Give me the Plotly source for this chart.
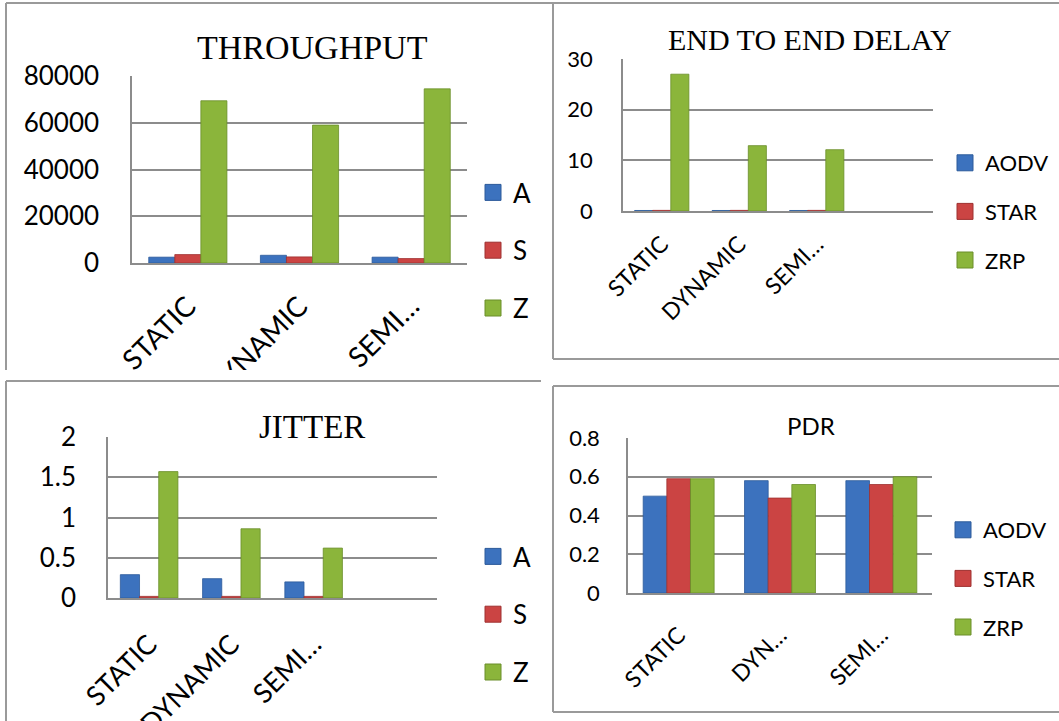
import plotly.graph_objects as go

# ---------------- data ----------------
CATEGORIES = ["STATIC", "DYNAMIC", "SEMI…"]
PDR_TICKS = ["STATIC", "DYN…", "SEMI…"]
SERIES = ["AODV", "STAR", "ZRP"]

THROUGHPUT_AODV = [2500, 3300, 2500]
THROUGHPUT_STAR = [3600, 2600, 1900]
THROUGHPUT_ZRP = [69400, 59000, 74500]

DELAY_AODV = [0.1, 0.1, 0.1]
DELAY_STAR = [0.12, 0.12, 0.12]
DELAY_ZRP = [27.0, 12.9, 12.1]

JITTER_AODV = [0.29, 0.24, 0.2]
JITTER_STAR = [0.02, 0.02, 0.02]
JITTER_ZRP = [1.57, 0.86, 0.62]

PDR_AODV = [0.5, 0.58, 0.58]
PDR_STAR = [0.59, 0.49, 0.56]
PDR_ZRP = [0.59, 0.56, 0.6]

COLORS = ["#3C72BE", "#CB4443", "#8BB53B"]
EDGES = ["#2C5A9A", "#9E3130", "#6A8E2A"]

W, H = 1059, 721
GRID = "#8C8C8C"
BORDER = "#9A9A9A"
SANS = "Lato"
SERIF = "Liberation Serif"


def px(x):
    return x / W


def py(y):
    return 1 - y / H


fig = go.Figure()

panels = [
    dict(ax="", leg="legend", values=[THROUGHPUT_AODV, THROUGHPUT_STAR, THROUGHPUT_ZRP],
         labels=[s[0] for s in SERIES]),
    dict(ax="2", leg="legend2", values=[DELAY_AODV, DELAY_STAR, DELAY_ZRP],
         labels=SERIES),
    dict(ax="3", leg="legend3", values=[JITTER_AODV, JITTER_STAR, JITTER_ZRP],
         labels=[s[0] for s in SERIES]),
    dict(ax="4", leg="legend4", values=[PDR_AODV, PDR_STAR, PDR_ZRP],
         labels=SERIES),
]

for p in panels:
    xa, ya = "x" + p["ax"], "y" + p["ax"]
    for name, vals, c, e in zip(SERIES, p["values"], COLORS, EDGES):
        fig.add_trace(go.Bar(x=CATEGORIES, y=vals, name=name, xaxis=xa, yaxis=ya,
                             marker=dict(color=c, line=dict(color=e, width=0.8)),
                             showlegend=False))
    for label, c, e in zip(p["labels"], COLORS, EDGES):
        fig.add_trace(go.Scatter(x=[None], y=[None], mode="markers", name=label,
                                 xaxis=xa, yaxis=ya, legend=p["leg"],
                                 legendgroup=p["leg"] + label,
                                 marker=dict(symbol="square", size=16, color=c,
                                             line=dict(color=e, width=1)),
                                 hoverinfo="skip"))


def xaxis(anchor, domain, ncat, size, standoff, ticktext=None):
    d = dict(anchor=anchor, domain=domain, type="category", range=[-0.5, ncat - 0.5],
             tickangle=-45, showgrid=False, showline=True, linecolor=GRID,
             linewidth=1.5, ticks="", tickfont=dict(family=SANS, size=size, color="black"),
             ticklabelstandoff=standoff, fixedrange=True, automargin=False)
    if ticktext:
        d["tickvals"] = CATEGORIES
        d["ticktext"] = ticktext
    return d


def yaxis(anchor, domain, rng, dtick, size, standoff, fmt=None):
    d = dict(anchor=anchor, domain=domain, range=rng, dtick=dtick, showgrid=True,
             gridcolor=GRID, gridwidth=1.5, showline=True, linecolor=GRID, linewidth=1.5,
             zeroline=False, ticks="", tickfont=dict(family=SANS, size=size, color="black"),
             ticklabelstandoff=standoff, fixedrange=True, automargin=False)
    if fmt:
        d["tickformat"] = fmt
    return d


def legend(x, y, size, gap):
    return dict(x=px(x), y=py(y), xanchor="left", yanchor="top",
                bgcolor="rgba(0,0,0,0)", borderwidth=0, itemsizing="trace",
                tracegroupgap=gap, traceorder="grouped",
                font=dict(family=SANS, size=size, color="black"))


shapes = []


def line(x0, y0, x1, y1):
    shapes.append(dict(type="line", xref="paper", yref="paper", layer="above",
                       x0=px(x0), y0=py(y0), x1=px(x1), y1=py(y1),
                       line=dict(color=BORDER, width=2)))


def cover(x0, y0, x1, y1):
    shapes.append(dict(type="rect", xref="paper", yref="paper", layer="above",
                       x0=px(x0), y0=py(y0), x1=px(x1), y1=py(y1),
                       fillcolor="white", line=dict(width=0)))


# hide the part of the top-left panel that is cut off
cover(0, 370, 552, 381)
cover(95, 381, 552, 432)

# panel borders
line(6, 3, 1059, 3)        # top edge of both top panels
line(6, 3, 6, 370)         # top-left left edge
line(553, 3, 553, 359)     # top-right left edge
line(553, 359, 1059, 359)  # top-right bottom edge
line(6, 381, 541, 381)     # bottom-left top edge
line(6, 381, 6, 721)       # bottom-left left edge
line(553, 386, 1059, 386)  # bottom-right top edge
line(553, 386, 553, 712)   # bottom-right left edge
line(553, 712, 1059, 712)  # bottom-right bottom edge

annotations = [
    dict(text="THROUGHPUT", x=px(312), y=py(48), font=dict(family=SERIF, size=34)),
    dict(text="END TO END DELAY", x=px(810), y=py(40), font=dict(family=SERIF, size=30)),
    dict(text="JITTER", x=px(312), y=py(427), font=dict(family=SERIF, size=33)),
    dict(text="PDR", x=px(811), y=py(426), font=dict(family=SANS, size=24)),
]
for a in annotations:
    a.update(xref="paper", yref="paper", xanchor="center", yanchor="middle",
             showarrow=False)
    a["font"]["color"] = "black"

fig.update_layout(
    width=W, height=H, margin=dict(l=0, r=0, t=0, b=0, autoexpand=False),
    paper_bgcolor="white", plot_bgcolor="white",
    barmode="group", bargap=0.3, bargroupgap=0,
    xaxis=xaxis("y", [px(132), px(467)], 3, 28, 14),
    yaxis=yaxis("x", [py(263), py(76)], [0, 80000], 20000, 26, 26, "d"),
    xaxis2=xaxis("y2", [px(623), px(933)], 4, 23, 9),
    yaxis2=yaxis("x2", [py(211), py(59)], [0, 30], 10, 22, 24),
    xaxis3=xaxis("y3", [px(108), px(437)], 4, 27, 18),
    yaxis3=yaxis("x3", [py(598), py(437)], [0, 2], 0.5, 26, 25),
    xaxis4=xaxis("y4", [px(628), px(932)], 3, 23, 18, PDR_TICKS),
    yaxis4=yaxis("x4", [py(593), py(438)], [0, 0.8], 0.2, 22, 22),
    legend=legend(473, 169, 26, 21),
    legend2=legend(945, 142, 22, 17),
    legend3=legend(473, 533, 26, 21),
    legend4=legend(943, 509, 22, 17),
    shapes=shapes,
    annotations=annotations,
    showlegend=True,
)

fig.write_html("out.html", config={"displayModeBar": False},
               post_script="document.body.style.margin='0px';")
